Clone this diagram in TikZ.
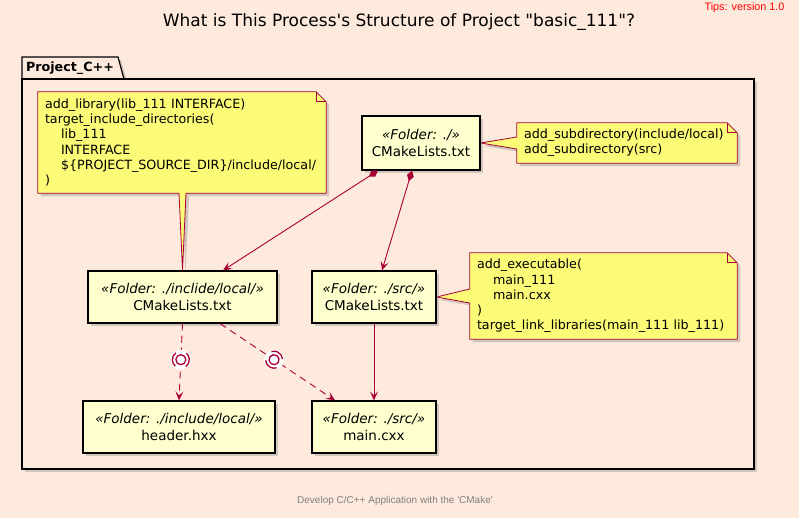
\documentclass[tikz,border=0pt]{standalone}
\usepackage{fontspec}
\setmainfont{DejaVu Sans}[Ligatures=TeXOff]
\newfontfamily\narrowfont{Liberation Sans}
\usetikzlibrary{arrows.meta,shadows}
\definecolor{bgc}{RGB}{254,234,221}
\definecolor{crim}{RGB}{168,0,54}
\definecolor{boxc}{RGB}{254,254,206}
\definecolor{notec}{RGB}{251,251,119}
\pgfdeclarelayer{back}
\pgfsetlayers{back,main}
\tikzset{
  shade/.style={drop shadow={shadow xshift=3pt, shadow yshift=-3pt, opacity=0.35}},
  folder/.style={draw=black, line width=1.2pt, fill=boxc, align=center, inner sep=0pt,
    font=\fontsize{13.5}{17}\selectfont, shade},
  notetxt/.style={align=left, inner xsep=7pt, inner ysep=0pt, font=\fontsize{12.7}{15.2}\selectfont},
  notebody/.style={draw=crim, line width=0.8pt, fill=notec, line join=miter, shade},
  compose/.style={crim, line width=0.9pt, {Diamond[length=11pt,width=7pt]}-{Stealth[length=9pt,width=8pt,inset=4pt]}},
  flow/.style={crim, line width=0.9pt, -{Stealth[length=9pt,width=8pt,inset=4pt]}},
  uses/.style={flow, dash pattern=on 7pt off 5pt},
  lolli/.pic={
    \fill[white] (0,0) circle (10pt);
    \draw[crim, solid, arrows=-, line width=1.3pt] (0,0) circle (5pt);
    \draw[crim, solid, arrows=-, line width=1.3pt] (38:8.5pt) arc (38:142:8.5pt);
    \draw[crim, solid, arrows=-, line width=1.3pt] (218:8.5pt) arc (218:322:8.5pt);
  }
}

\begin{document}
\begin{tikzpicture}
\useasboundingbox (0pt,0pt) rectangle (799pt,-518pt);
% title and captions
\node (title) [font=\fontsize{17}{20}\selectfont] at (399pt,-22pt) {What is This Process's Structure of Project "basic\_111"?};
\node (tips) [anchor=east, text=red, font=\narrowfont\fontsize{10.8}{12}\selectfont] at (788pt,-8pt) {Tips: version 1.0};
\node (foot) [text=gray, font=\narrowfont\fontsize{10}{12}\selectfont] at (395pt,-501pt) {Develop C/C++ Application with the 'CMake'};
% files
\node (root) [folder, minimum width=118pt, minimum height=54pt] at (421pt,-143pt) {\textit{«Folder: ./»}\\CMakeLists.txt};
\node (inclide) [folder, minimum width=189pt, minimum height=52pt] at (182.5pt,-297pt) {\textit{«Folder: ./inclide/local/»}\\CMakeLists.txt};
\node (src) [folder, minimum width=124pt, minimum height=52pt] at (374pt,-297pt) {\textit{«Folder: ./src/»}\\CMakeLists.txt};
\node (header) [folder, minimum width=192pt, minimum height=52pt] at (179pt,-427pt) {\textit{«Folder: ./include/local/»}\\header.hxx};
\node (main) [folder, minimum width=124pt, minimum height=52pt] at (374pt,-427pt) {\textit{«Folder: ./src/»}\\main.cxx};
% notes
\node (n1) [notetxt, text width=274pt, minimum height=101pt] at (182pt,-142.5pt) {add\_library(lib\_111 INTERFACE)\\target\_include\_directories(\\\hspace*{16pt}lib\_111\\\hspace*{16pt}INTERFACE\\\hspace*{16pt}\$\{PROJECT\_SOURCE\_DIR\}/include/local/\\)};
\node (n2) [notetxt, text width=206pt, minimum height=40pt] at (627pt,-143pt) {add\_subdirectory(include/local)\\add\_subdirectory(src)};
\node (n3) [notetxt, text width=253pt, minimum height=86pt] at (603.5pt,-296pt) {add\_executable(\\\hspace*{16pt}main\_111\\\hspace*{16pt}main.cxx\\)\\target\_link\_libraries(main\_111 lib\_111)};
\begin{pgfonlayer}{back}
\fill[bgc] (0pt,0pt) rectangle (799pt,-518pt);
% package frame
\draw[black, line width=1.2pt, fill=bgc, shade] (22pt,-79pt) -- (22pt,-57pt) -- (118pt,-57pt) -- (124pt,-79pt);
\draw[black, line width=1.2pt, fill=bgc, shade] (22pt,-79pt) rectangle (754pt,-469pt);
\draw[notebody] (n1.south west) -- (n1.north west) -- ([xshift=-10pt]n1.north east) -- ([yshift=-10pt]n1.north east) -- (n1.south east) -- ([xshift=4pt]n1.south) -- (inclide.north) -- ([xshift=-3pt]n1.south) -- cycle;
\draw[notebody] (n2.north west) -- ([xshift=-10pt]n2.north east) -- ([yshift=-10pt]n2.north east) -- (n2.south east) -- (n2.south west) -- ([yshift=-6pt]n2.west) -- (root.east) -- ([yshift=6pt]n2.west) -- cycle;
\draw[notebody] (n3.north west) -- ([xshift=-10pt]n3.north east) -- ([yshift=-10pt]n3.north east) -- (n3.south east) -- (n3.south west) -- ([yshift=-7pt]n3.west) -- (src.east) -- ([yshift=7pt]n3.west) -- cycle;
\draw[crim, line width=0.8pt] ([xshift=-10pt]n1.north east) |- ([yshift=-10pt]n1.north east);
\draw[crim, line width=0.8pt] ([xshift=-10pt]n2.north east) |- ([yshift=-10pt]n2.north east);
\draw[crim, line width=0.8pt] ([xshift=-10pt]n3.north east) |- ([yshift=-10pt]n3.north east);
\end{pgfonlayer}
\node (pkg) [font=\bfseries\fontsize{12.7}{15}\selectfont] at (70pt,-68pt) {Project\_C++};
% links
\draw[compose] ([xshift=-43pt]root.south) -- ([xshift=40.5pt]inclide.north);
\draw[compose] ([xshift=-9pt]root.south) -- ([xshift=8pt]src.north);
\draw[flow] (src) -- (main);
\draw[uses] (inclide.south) -- pic[pos=0.47, sloped]{lolli} (header.north);
\draw[uses] ([xshift=37.5pt]inclide.south) -- pic[pos=0.47, sloped]{lolli} ([xshift=-39pt]main.north);
\end{tikzpicture}
\end{document}
